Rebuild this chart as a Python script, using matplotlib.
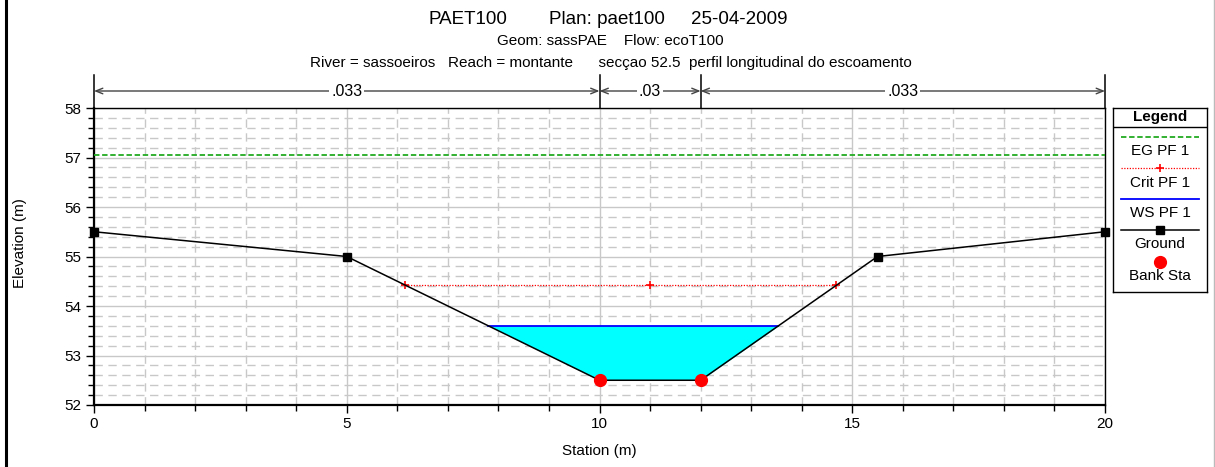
import numpy as np
import matplotlib
matplotlib.use("Agg")
import matplotlib.pyplot as plt
from matplotlib.lines import Line2D
import matplotlib.transforms as mtransforms

plt.rcParams['font.family'] = ['Liberation Sans', 'DejaVu Sans']

# ---- data ----
station = [0, 5, 10, 12, 15.5, 20]
elevation = [55.5, 55.0, 52.5, 52.5, 55.0, 55.5]
bank_sta = [10, 12]
ws_elev = 53.6
crit_elev = 54.42
crit_mid_station = 11.0
eg_elev = 57.05
n_breaks = [0, 10, 12, 20]
n_values = ['.033', '.03', '.033']

W, H = 1215, 467
fig = plt.figure(figsize=(W / 100, H / 100), dpi=100)

def fx(px):
    return px / W

def fy(py):
    return 1 - py / H

ax = fig.add_axes([fx(94), fy(405), fx(1105 - 94), (405 - 108) / H])
ax.set_xlim(0, 20)
ax.set_ylim(52, 58)

# grids
ax.set_xticks([0, 5, 10, 15, 20])
ax.set_xticks(np.arange(0, 21, 1), minor=True)
ax.set_yticks([52, 53, 54, 55, 56, 57, 58])
ax.set_yticks(np.arange(52, 58.01, 0.2), minor=True)
ax.grid(which='major', color='#c8c8c8', linestyle='-', linewidth=1.0, zorder=0)
ax.grid(which='minor', color='#c8c8c8', linestyle=(0, (6, 4)), linewidth=1.0, zorder=0)
ax.set_axisbelow(True)
ax.tick_params(which='major', direction='out', length=6, width=1, labelsize=11, pad=3)
ax.tick_params(which='minor', direction='out', length=4, width=1)
for s in ax.spines.values():
    s.set_linewidth(1.0)
ax.spines['left'].set_linewidth(1.6)
ax.spines['bottom'].set_linewidth(1.6)

st = np.array(station, dtype=float)
el = np.array(elevation, dtype=float)

def crossings(level):
    xs = []
    for i in range(len(st) - 1):
        y0, y1 = el[i], el[i + 1]
        if (y0 - level) * (y1 - level) < 0:
            xs.append(st[i] + (level - y0) * (st[i + 1] - st[i]) / (y1 - y0))
    return xs

# water fill
wl, wr = crossings(ws_elev)
xw = np.concatenate([[wl], st[(st > wl) & (st < wr)], [wr]])
gw = np.interp(xw, st, el)
ax.fill_between(xw, gw, ws_elev, color='#00ffff', zorder=2, linewidth=0)
ax.plot([wl, wr], [ws_elev, ws_elev], color='#0000ff', lw=1.3, zorder=3)

# EG
ax.axhline(eg_elev, color='#22aa22', lw=1.3, linestyle=(0, (3, 1.5)), zorder=3)

# Crit
cl, cr = crossings(crit_elev)
ax.plot([cl, cr], [crit_elev, crit_elev], color='red', lw=0.9, linestyle=(0, (1, 1.2)), zorder=3)
ax.plot([cl, crit_mid_station, cr], [crit_elev] * 3, linestyle='none', marker='+',
        color='red', markersize=6, mew=1.2, zorder=4)

# Ground
ax.plot(st, el, color='black', lw=1.1, zorder=4)
mask = ~np.isin(st, bank_sta)
ax.plot(st[mask], el[mask], linestyle='none', marker='s', color='black', markersize=6, zorder=5, clip_on=False)
bank_el = np.interp(bank_sta, st, el)
ax.plot(bank_sta, bank_el, linestyle='none', marker='o', color='red', markersize=8.5, zorder=6)

ax.set_xlabel('Station (m)', fontsize=11)
ax.xaxis.set_label_coords(0.5, -(444 - 405) / 297)
ax.set_ylabel('Elevation (m)', fontsize=11)
ax.yaxis.set_label_coords((27 - 94) / 1011, (405 - 243) / 297)

# Manning's n annotations
trans = mtransforms.blended_transform_factory(ax.transData, ax.transAxes)
y_arrow = (405 - 91) / 297
y_top = (405 - 75) / 297
for b in n_breaks:
    ax.plot([b, b], [1.0, y_top], color='black', lw=1.1, transform=trans, clip_on=False)
for i, v in enumerate(n_values):
    a, b = n_breaks[i], n_breaks[i + 1]
    ax.annotate('', xy=(a, y_arrow), xytext=(b, y_arrow), xycoords=trans, textcoords=trans,
                arrowprops=dict(arrowstyle='<->,head_length=0.5,head_width=0.2', color='#444444',
                                lw=1.0, shrinkA=0, shrinkB=0))
    ax.text((a + b) / 2, y_arrow, v, transform=trans, ha='center', va='center', fontsize=11.5,
            bbox=dict(facecolor='white', edgecolor='none', pad=1.5))

# titles
fig.text(fx(428), fy(19), 'PAET100', ha='left', va='center', fontsize=13.5)
fig.text(fx(549), fy(19), 'Plan: paet100', ha='left', va='center', fontsize=13.5)
fig.text(fx(691), fy(19), '25-04-2009', ha='left', va='center', fontsize=13.5)
fig.text(fx(610), fy(41), 'Geom: sassPAE    Flow: ecoT100', ha='center', va='center', fontsize=11)
fig.text(fx(611), fy(63), 'River = sassoeiros   Reach = montante      secçao 52.5  perfil longitudinal do escoamento',
         ha='center', va='center', fontsize=11)

# legend box
lax = fig.add_axes([fx(1113), fy(292), fx(1207 - 1113), (292 - 108) / H])
lax.set_xlim(0, 94)
lax.set_ylim(184, 0)
lax.set_xticks([])
lax.set_yticks([])
for s in lax.spines.values():
    s.set_linewidth(1.0)
lax.axhline(19, color='black', lw=1.0)
lax.text(47, 9, 'Legend', ha='center', va='center', fontsize=11, fontweight='bold')
x0, x1 = 8, 86
lax.plot([x0, x1], [29, 29], color='#22aa22', lw=1.3, linestyle=(0, (3, 1.5)))
lax.text(47, 43, 'EG PF 1', ha='center', va='center', fontsize=11)
lax.plot([x0, x1], [60, 60], color='red', lw=0.9, linestyle=(0, (1, 1.2)))
lax.plot([47], [60], marker='+', color='red', markersize=6, mew=1.2)
lax.text(47, 75, 'Crit PF 1', ha='center', va='center', fontsize=11)
lax.plot([x0, x1], [91, 91], color='#0000ff', lw=1.3)
lax.text(47, 105, 'WS PF 1', ha='center', va='center', fontsize=11)
lax.plot([x0, x1], [122, 122], color='black', lw=1.1)
lax.plot([47], [122], marker='s', color='black', markersize=6)
lax.text(47, 136, 'Ground', ha='center', va='center', fontsize=11)
lax.plot([47], [154], marker='o', color='red', markersize=8.5)
lax.text(47, 168, 'Bank Sta', ha='center', va='center', fontsize=11)

# figure border lines
fig.add_artist(Line2D([fx(6), fx(6)], [0, 1], color='black', lw=2.2, transform=fig.transFigure))
fig.add_artist(Line2D([fx(1214), fx(1214)], [0, 1], color='#bbbbbb', lw=1, transform=fig.transFigure))

fig.savefig('out.png', dpi=100)
